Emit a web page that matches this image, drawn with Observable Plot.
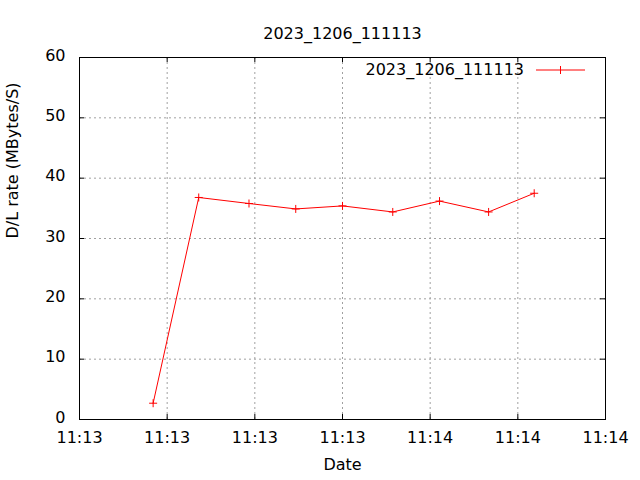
<!DOCTYPE html>
<html>
<head>
<meta charset="utf-8">
<script src="https://cdn.jsdelivr.net/npm/d3@7"></script>
<script src="https://cdn.jsdelivr.net/npm/@observablehq/plot@0.6"></script>
<style>
  html, body { margin: 0; padding: 0; background: #fff; }
</style>
</head>
<body>
<div id="chart"></div>
<script>
const titleText = "2023_1206_111113";
const seriesName = "2023_1206_111113";
const xLabel = "Date";
const yLabel = "D/L rate (MBytes/S)";
const day = "2023-12-06";
const times = ["11:13:12.6", "11:13:20.4", "11:13:29.0", "11:13:37.0", "11:13:45.0", "11:13:53.6", "11:14:01.6", "11:14:10.0", "11:14:17.8"];
const rates = [2.7, 36.8, 35.8, 34.9, 35.4, 34.4, 36.2, 34.4, 37.5];
const xTickTimes = ["11:13:00", "11:13:15", "11:13:30", "11:13:45", "11:14:00", "11:14:15", "11:14:30"];
const yTicks = [0, 10, 20, 30, 40, 50, 60];

const toDate = t => new Date(`${day}T${t}Z`);
const data = times.map((t, i) => ({time: toDate(t), rate: rates[i]}));
const xTicks = xTickTimes.map(toDate);
const fmt = d3.utcFormat("%H:%M");

const W = 640, H = 480;
const mL = 79, mR = 35, mT = 57, mB = 61;
const fw = W - mL - mR, fh = H - mT - mB;
const tickLen = 5;

const plusSymbol = {
  draw(context, size) {
    const r = Math.sqrt(size / Math.PI);
    context.moveTo(-r, 0); context.lineTo(r, 0);
    context.moveTo(0, -r); context.lineTo(0, r);
  }
};

const plot = Plot.plot({
  width: W,
  height: H,
  marginLeft: mL,
  marginRight: mR,
  marginTop: mT,
  marginBottom: mB,
  style: {fontFamily: "'DejaVu Sans', sans-serif", fontSize: "16px", color: "#000", background: "#fff"},
  x: {type: "utc", domain: [xTicks[0], xTicks[xTicks.length - 1]]},
  y: {domain: [0, 60]},
  marks: [
    Plot.gridX(xTicks, {stroke: "#a0a0a0", strokeOpacity: 1, strokeDasharray: "2,3"}),
    Plot.gridY(yTicks, {stroke: "#a0a0a0", strokeOpacity: 1, strokeDasharray: "2,3"}),
    Plot.tickX(xTicks, {x: d => d, insetTop: fh - tickLen, stroke: "#000"}),
    Plot.tickX(xTicks, {x: d => d, insetBottom: fh - tickLen, stroke: "#000"}),
    Plot.tickY(yTicks, {y: d => d, insetRight: fw - tickLen, stroke: "#000"}),
    Plot.tickY(yTicks, {y: d => d, insetLeft: fw - tickLen, stroke: "#000"}),
    Plot.axisX({ticks: xTicks, tickFormat: fmt, tickSize: 0, tickPadding: 12, label: null}),
    Plot.axisY({ticks: yTicks, tickSize: 0, tickPadding: 14, label: null, dy: -2}),
    Plot.frame({stroke: "#000"}),
    Plot.line(data, {x: "time", y: "rate", stroke: "red", strokeWidth: 1}),
    Plot.dot(data, {x: "time", y: "rate", symbol: plusSymbol, r: 4, stroke: "red", fill: "none", strokeWidth: 1}),
    Plot.text([titleText], {text: d => d, frameAnchor: "top", dy: -30, fontSize: 16}),
    Plot.text([xLabel], {text: d => d, frameAnchor: "bottom", dy: 50, fontSize: 16}),
    Plot.text([yLabel], {text: d => d, frameAnchor: "left", dx: -67, rotate: -90, fontSize: 16})
  ]
});

// Legend (inside top-right, gnuplot style)
const svg = d3.select(plot);
const lg = svg.append("g").attr("font-family", "'DejaVu Sans', sans-serif").attr("font-size", 16);
const lx = W - mR - 69, ly = mT + 13;
lg.append("text").attr("x", lx - 12).attr("y", ly).attr("dy", "0.32em").attr("text-anchor", "end").attr("fill", "#000").text(seriesName);
lg.append("line").attr("x1", lx).attr("x2", lx + 49).attr("y1", ly).attr("y2", ly).attr("stroke", "red");
lg.append("path").attr("d", `M${lx + 24.5},${ly - 4}V${ly + 4}`).attr("stroke", "red");

document.getElementById("chart").appendChild(plot);
</script>
</body>
</html>
